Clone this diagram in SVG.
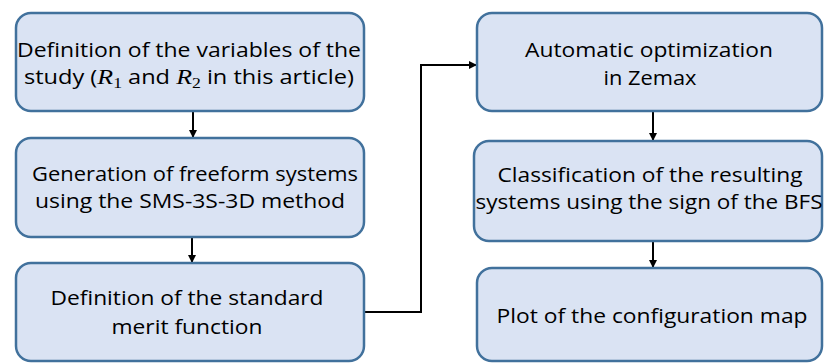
<svg xmlns="http://www.w3.org/2000/svg" width="824" height="363" viewBox="0 0 824 363">
<style>
.box{fill:#dae3f3;stroke:#41719c;stroke-width:2.5}
.t{font-family:"Open Sans","Noto Sans","Liberation Sans",sans-serif;font-size:20px;fill:#000;text-anchor:middle}
.m{font-family:"Liberation Serif",serif;font-style:italic;font-size:22px}
.s{font-family:"Liberation Serif",serif;font-size:15px}
.c{fill:none;stroke:#000;stroke-width:2}
</style>
<defs>
<marker id="ah" markerWidth="8" markerHeight="8" refX="7" refY="4" orient="auto" markerUnits="userSpaceOnUse">
<path d="M0,0 L8,4 L0,8 z" fill="#000"/>
</marker>
</defs>
<rect width="824" height="363" fill="#fff"/>
<g id="connectors">
<line class="c" x1="193" y1="111" x2="193" y2="137" marker-end="url(#ah)"/>
<line class="c" x1="192" y1="237" x2="192" y2="262" marker-end="url(#ah)"/>
<line class="c" x1="653" y1="111" x2="653" y2="140" marker-end="url(#ah)"/>
<line class="c" x1="653" y1="241" x2="653" y2="267" marker-end="url(#ah)"/>
<polyline class="c" points="365,312 421,312 421,65 476,65" marker-end="url(#ah)"/>
</g>
<g id="n1">
<rect class="box" x="16" y="13" width="348" height="98" rx="15"/>
<text class="t" x="189" y="57" textLength="344" lengthAdjust="spacingAndGlyphs">Definition of the variables of the</text>
<text class="t" x="189" y="84" textLength="330" lengthAdjust="spacingAndGlyphs">study (<tspan class="m">R</tspan><tspan class="s" dy="4">1</tspan><tspan dy="-4"> and </tspan><tspan class="m">R</tspan><tspan class="s" dy="4">2</tspan><tspan dy="-4"> in this article)</tspan></text>
</g>
<g id="n2">
<rect class="box" x="16" y="138" width="348" height="99" rx="15"/>
<text class="t" x="195" y="181" textLength="326" lengthAdjust="spacingAndGlyphs">Generation of freeform systems</text>
<text class="t" x="190" y="208" textLength="310" lengthAdjust="spacingAndGlyphs">using the SMS-3S-3D method</text>
</g>
<g id="n3">
<rect class="box" x="16" y="263" width="348" height="98" rx="15"/>
<text class="t" x="187" y="305" textLength="273" lengthAdjust="spacingAndGlyphs">Definition of the standard</text>
<text class="t" x="187" y="334" textLength="151" lengthAdjust="spacingAndGlyphs">merit function</text>
</g>
<g id="n4">
<rect class="box" x="477" y="13" width="345" height="98" rx="15"/>
<text class="t" x="649" y="57" textLength="248" lengthAdjust="spacingAndGlyphs">Automatic optimization</text>
<text class="t" x="650" y="85" textLength="93" lengthAdjust="spacingAndGlyphs">in Zemax</text>
</g>
<g id="n5">
<rect class="box" x="474" y="141" width="348" height="100" rx="15"/>
<text class="t" x="650" y="182" textLength="305" lengthAdjust="spacingAndGlyphs">Classification of the resulting</text>
<text class="t" x="649" y="209" textLength="347" lengthAdjust="spacingAndGlyphs">systems using the sign of the BFS</text>
</g>
<g id="n6">
<rect class="box" x="477" y="268" width="345" height="93" rx="15"/>
<text class="t" x="652" y="323" textLength="311" lengthAdjust="spacingAndGlyphs">Plot of the configuration map</text>
</g>
</svg>
